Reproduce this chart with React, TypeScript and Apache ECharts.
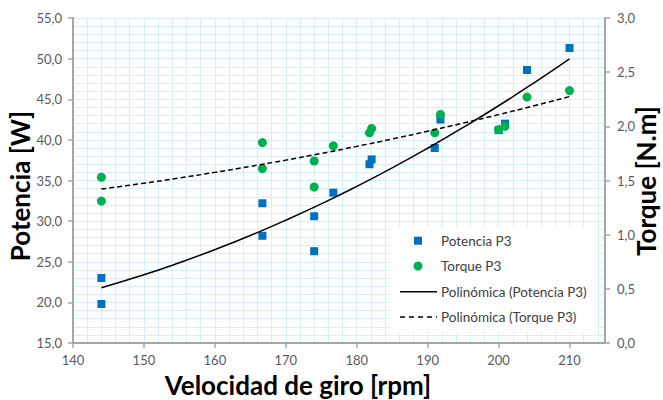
import React, { useEffect, useRef } from 'react';
import * as echarts from 'echarts';

// Measured points (rpm, potencia [W], torque [N.m])
const rpm = [144, 144, 166.7, 166.7, 174, 174, 176.7, 181.8, 182.1, 191, 191.8, 200, 200.9, 204, 210];
const potencia = [23.0, 19.8, 32.2, 28.2, 30.6, 26.3, 33.5, 37.0, 37.6, 39.0, 42.5, 41.2, 42.0, 48.6, 51.3];
const torque = [1.53, 1.31, 1.85, 1.61, 1.68, 1.44, 1.82, 1.94, 1.98, 1.94, 2.11, 1.97, 2.0, 2.27, 2.33];

// Trendlines
const trendRpm = [144, 150, 155, 160, 165, 170, 175, 180, 185, 190, 195, 200, 205, 210];
const trendPotencia = [21.81, 23.4, 24.88, 26.49, 28.23, 30.11, 32.12, 34.27, 36.55, 38.97, 41.52, 44.2, 47.02, 49.97];
const trendTorque = [1.421, 1.475, 1.523, 1.575, 1.63, 1.688, 1.75, 1.815, 1.883, 1.955, 2.03, 2.108, 2.19, 2.275];

const xTickValues = [140, 150, 160, 170, 180, 190, 200, 210];
const legendLabels = ['Potencia P3', 'Torque P3', 'Polinómica (Potencia P3)', 'Polinómica (Torque P3)'];
const xTitle = 'Velocidad de giro [rpm]';
const yLeftTitle = 'Potencia [W]';
const yRightTitle = 'Torque [N.m]';

const FONT = 'Lato, "Noto Sans", sans-serif';
const AXIS_COLOR = '#a6a6a6';
const LABEL_COLOR = '#595959';
const GRID_COLOR = '#d5eefa';
const BLUE = '#0070C0';
const GREEN = '#00B050';

const fmt1 = (v: number) => v.toFixed(1).replace('.', ',');

export default function App() {
  const ref = useRef<HTMLDivElement>(null);

  useEffect(() => {
    if (!ref.current) return;
    const chart = echarts.init(ref.current, undefined, { renderer: 'svg' });

    const pts = (xs: number[], ys: number[]) => xs.map((x, i) => [x, ys[i]]);

    const legendX = 390;
    const legendY = 227;
    const rowY = [240.7, 266, 291.7, 317];
    const legendGraphics: any[] = [
      { type: 'rect', z: 100, shape: { x: legendX, y: legendY, width: 207, height: 105 }, style: { fill: '#ffffff' } },
      { type: 'rect', z: 101, shape: { x: 414, y: rowY[0] - 4, width: 8, height: 8 }, style: { fill: BLUE } },
      { type: 'circle', z: 101, shape: { cx: 418, cy: rowY[1], r: 4.5 }, style: { fill: GREEN } },
      { type: 'line', z: 101, shape: { x1: 400, y1: rowY[2], x2: 437, y2: rowY[2] }, style: { stroke: '#000', lineWidth: 1.5 } },
      { type: 'line', z: 101, shape: { x1: 400, y1: rowY[3], x2: 437, y2: rowY[3] }, style: { stroke: '#000', lineWidth: 1.5, lineDash: [5, 4] } },
      ...legendLabels.map((t, i) => ({
        type: 'text', z: 101, x: 441, y: rowY[i],
        style: { text: t, fill: '#404040', font: `13.5px ${FONT}`, textVerticalAlign: 'middle', textAlign: 'left' },
      })),
    ];

    const titleFont = `bold 26px ${FONT}`;
    const titles: any[] = [
      { type: 'text', z: 100, x: 298, y: 385, style: { text: xTitle, fill: '#000', font: titleFont, textAlign: 'center', textVerticalAlign: 'middle' } },
      { type: 'text', z: 100, x: 20, y: 186, rotation: Math.PI / 2, style: { text: yLeftTitle, fill: '#000', font: titleFont, textAlign: 'center', textVerticalAlign: 'middle' } },
      { type: 'text', z: 100, x: 646, y: 181, rotation: Math.PI / 2, style: { text: yRightTitle, fill: '#000', font: titleFont, textAlign: 'center', textVerticalAlign: 'middle' } },
    ];

    const hiddenParts = {
      axisLine: { show: false },
      axisTick: { show: false },
      axisLabel: { show: false },
      splitLine: { show: true, lineStyle: { color: GRID_COLOR, width: 1 } },
    };

    chart.setOption({
      animation: false,
      backgroundColor: '#ffffff',
      grid: { left: 73, right: 58, top: 18, bottom: 57, containLabel: false },
      xAxis: [
        {
          type: 'value', min: 140, max: 215, interval: 10, z: 5,
          axisLine: { show: true, lineStyle: { color: AXIS_COLOR, width: 2 } },
          axisTick: { show: true, length: 5, customValues: xTickValues, lineStyle: { color: AXIS_COLOR, width: 1.5 } },
          axisLabel: { customValues: xTickValues, margin: 10, color: LABEL_COLOR, fontSize: 13, fontFamily: FONT },
          splitLine: { show: false },
        },
        // fine grid (every 2 rpm)
        { type: 'value', min: 140, max: 215, interval: 2, position: 'bottom', z: 0, ...hiddenParts },
      ],
      yAxis: [
        {
          type: 'value', position: 'left', min: 15, max: 55, interval: 5, z: 5,
          axisLine: { show: true, lineStyle: { color: AXIS_COLOR, width: 2 } },
          axisTick: { show: true, length: 5, lineStyle: { color: AXIS_COLOR, width: 1.5 } },
          axisLabel: { margin: 11, color: LABEL_COLOR, fontSize: 13, fontFamily: FONT, formatter: (v: number) => fmt1(v) },
          splitLine: { show: false },
        },
        {
          type: 'value', position: 'right', min: 0, max: 3, interval: 0.5, z: 5,
          axisLine: { show: true, lineStyle: { color: AXIS_COLOR, width: 2 } },
          axisTick: { show: true, length: 5, lineStyle: { color: AXIS_COLOR, width: 1.5 } },
          axisLabel: { margin: 12, color: LABEL_COLOR, fontSize: 13, fontFamily: FONT, formatter: (v: number) => fmt1(v) },
          splitLine: { show: false },
        },
        // fine grid (every 1 W)
        { type: 'value', position: 'left', min: 15, max: 55, interval: 1, z: 0, ...hiddenParts },
      ],
      series: [
        {
          name: legendLabels[0], type: 'scatter', xAxisIndex: 0, yAxisIndex: 0, symbol: 'rect', symbolSize: 8,
          itemStyle: { color: BLUE, opacity: 1 }, data: pts(rpm, potencia), z: 3,
        },
        {
          name: legendLabels[1], type: 'scatter', xAxisIndex: 0, yAxisIndex: 1, symbol: 'circle', symbolSize: 9,
          itemStyle: { color: GREEN, opacity: 1 }, data: pts(rpm, torque), z: 4,
        },
        {
          name: legendLabels[2], type: 'line', xAxisIndex: 0, yAxisIndex: 0, smooth: true, symbol: 'none', showSymbol: false,
          lineStyle: { color: '#000', width: 1.5 }, data: pts(trendRpm, trendPotencia), z: 5,
        },
        {
          name: legendLabels[3], type: 'line', xAxisIndex: 0, yAxisIndex: 1, smooth: true, symbol: 'none', showSymbol: false,
          lineStyle: { color: '#000', width: 1.5, type: [5, 3] }, data: pts(trendRpm, trendTorque), z: 5,
        },
      ],
      graphic: [...legendGraphics, ...titles],
    });

    return () => chart.dispose();
  }, []);

  return <div ref={ref} style={{ position: 'fixed', left: 0, top: 0, width: 663, height: 400 }} />;
}
